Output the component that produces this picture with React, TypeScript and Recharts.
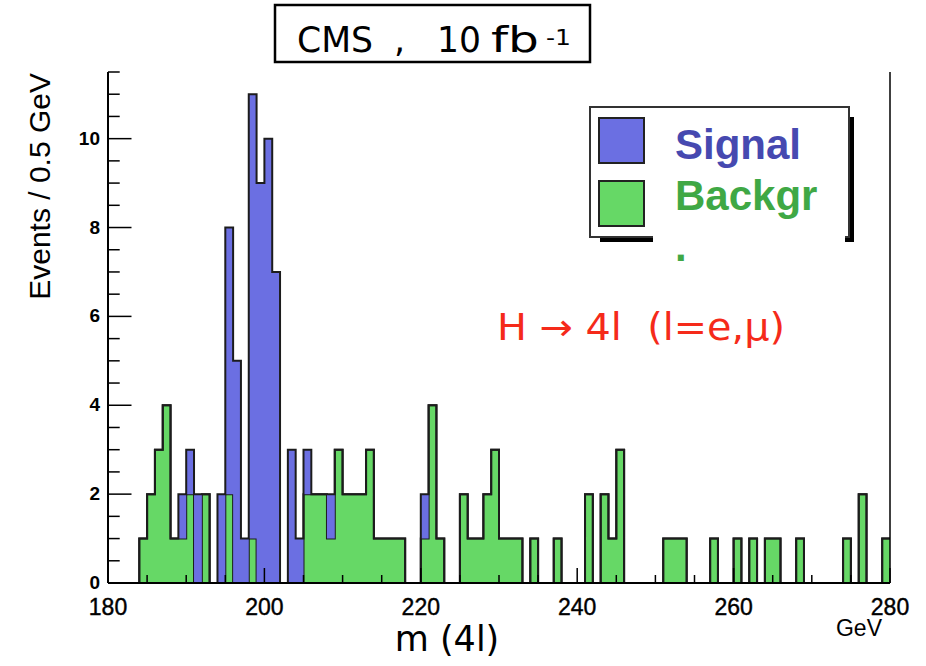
import React from "react";
import {
  ComposedChart,
  Area,
  XAxis,
  YAxis,
  ReferenceLine,
  Legend,
} from "recharts";

// 1 GeV bins from 180 to 280 GeV
const binStart = 180;
const binWidth = 1;

const background = [
  0, 0, 0, 0, 1, 2, 3, 4, 1, 1, // 180-189
  2, 0, 2, 0, 0, 2, 0, 0, 1, 0, // 190-199
  0, 0, 0, 0, 0, 2, 2, 2, 1, 3, // 200-209
  2, 2, 2, 3, 1, 1, 1, 1, 0, 0, // 210-219
  1, 4, 1, 0, 0, 2, 1, 1, 2, 3, // 220-229
  1, 1, 1, 0, 1, 0, 0, 1, 0, 0, // 230-239
  0, 2, 0, 2, 1, 3, 0, 0, 0, 0, // 240-249
  0, 1, 1, 1, 0, 0, 0, 1, 0, 0, // 250-259
  1, 0, 1, 0, 1, 1, 0, 0, 1, 0, // 260-269
  0, 0, 0, 0, 1, 0, 2, 0, 0, 1, // 270-279
];

const signal = [
  0, 0, 0, 0, 0, 0, 0, 0, 0, 1, // 180-189
  1, 2, 0, 0, 2, 6, 5, 1, 10, 9, // 190-199
  10, 7, 0, 3, 1, 1, 0, 0, 1, 0, // 200-209
  0, 0, 0, 0, 0, 0, 0, 0, 0, 0, // 210-219
  1, 0, 0, 0, 0, 0, 0, 0, 0, 0, // 220-229
  0, 0, 0, 0, 0, 0, 0, 0, 0, 0, // 230-239
  0, 0, 0, 0, 0, 0, 0, 0, 0, 0, // 240-249
  0, 0, 0, 0, 0, 0, 0, 0, 0, 0, // 250-259
  0, 0, 0, 0, 0, 0, 0, 0, 0, 0, // 260-269
  0, 0, 0, 0, 0, 0, 0, 0, 0, 0, // 270-279
];

const xMajorTicks = [180, 200, 220, 240, 260, 280];
const xMinorTicks = [
  185, 190, 195, 205, 210, 215, 225, 230, 235, 245, 250, 255, 265, 270, 275,
];
const yMajorTicks = [0, 2, 4, 6, 8, 10];
const yMinorTicks = [
  0.5, 1, 1.5, 2.5, 3, 3.5, 4.5, 5, 5.5, 6.5, 7, 7.5, 8.5, 9, 9.5, 10.5, 11,
  11.5,
];

const BLUE = "#6b6fe2";
const GREEN = "#66d866";
const OUTLINE = "#1c1c1c";
const fillFor: Record<string, string> = { sig: BLUE, bg: GREEN };
const textFor: Record<string, string> = { sig: "#4649b0", bg: "#3fa845" };

const data = background.map((bg, i) => ({
  mass: binStart + i * binWidth,
  bg,
  sig: signal[i],
}));
// closing edge so the last bin keeps its width with stepAfter
data.push({
  mass: binStart + background.length * binWidth,
  bg: background[background.length - 1],
  sig: signal[signal.length - 1],
});

function XTick({ x, y, payload }: any) {
  const major = xMajorTicks.includes(payload.value);
  return (
    <g>
      <line
        x1={x}
        x2={x}
        y1={y}
        y2={y - (major ? 15 : 8)}
        stroke="#000"
        strokeWidth={1.5}
      />
      {major && (
        <text
          x={x}
          y={y + 32}
          textAnchor="middle"
          fontSize={23}
          fontFamily="'Liberation Sans', Arial, sans-serif"
          fill="#000"
          stroke="#000"
          strokeWidth={0.4}
        >
          {payload.value}
        </text>
      )}
    </g>
  );
}

function YTick({ x, y, payload }: any) {
  const major = yMajorTicks.includes(payload.value);
  return (
    <g>
      <line
        x1={x}
        x2={x + (major ? 23.5 : 11.7)}
        y1={y}
        y2={y}
        stroke="#000"
        strokeWidth={1.5}
      />
      {major && (
        <text
          x={x - 8}
          y={y + 6}
          textAnchor="end"
          fontSize={19}
          fontWeight="bold"
          fontFamily="'Liberation Sans', Arial, sans-serif"
          fill="#000"
        >
          {payload.value}
        </text>
      )}
    </g>
  );
}

function LegendBox({ payload }: any) {
  const items = [...(payload || [])].reverse();
  return (
    <div style={{ position: "relative", width: 270, height: 170 }}>
      <div
        style={{
          position: "absolute",
          left: 11,
          top: 11,
          width: 254,
          height: 125,
          background: "#000",
        }}
      />
      <div
        style={{
          position: "absolute",
          left: 0,
          top: 0,
          width: 257,
          height: 128,
          border: "2px solid #333",
          background: "#fff",
        }}
      />
      {items.map((item: any, i: number) => (
        <div
          key={item.dataKey}
          style={{
            position: "absolute",
            left: 9,
            top: 11 + i * 63,
            width: 43,
            height: 43,
            border: "2px solid #222",
            background: fillFor[item.dataKey],
          }}
        />
      ))}
      <div
        style={{
          position: "absolute",
          left: 64,
          top: 13,
          width: 192,
          height: 155,
          background: "#fff",
        }}
      >
        {items.map((item: any) => (
          <div
            key={item.dataKey}
            style={{
              marginLeft: 22,
              width: 150,
              overflowWrap: "anywhere",
              fontFamily: "'Liberation Sans', Arial, sans-serif",
              fontWeight: "bold",
              fontSize: 42,
              lineHeight: "51px",
              color: textFor[item.dataKey],
            }}
          >
            {item.value}
          </div>
        ))}
      </div>
    </div>
  );
}

export default function App() {
  return (
    <div
      style={{
        position: "absolute",
        left: 0,
        top: 0,
        width: 926,
        height: 666,
        background: "#fff",
      }}
    >
      <ComposedChart
        width={926}
        height={666}
        data={data}
        margin={{ top: 72, right: 36, bottom: 0, left: 0 }}
      >
        <Area
          type="stepAfter"
          dataKey="bg"
          name="Backgr."
          stackId="h"
          stroke={OUTLINE}
          strokeWidth={2}
          fill={GREEN}
          fillOpacity={1}
          dot={false}
          activeDot={false}
          isAnimationActive={false}
        />
        <Area
          type="stepAfter"
          dataKey="sig"
          name="Signal"
          stackId="h"
          stroke={OUTLINE}
          strokeWidth={2}
          fill={BLUE}
          fillOpacity={1}
          dot={false}
          activeDot={false}
          isAnimationActive={false}
        />
        <XAxis
          dataKey="mass"
          type="number"
          domain={[180, 280]}
          ticks={[...xMajorTicks, ...xMinorTicks]}
          interval={0}
          height={83}
          tickSize={0}
          tickMargin={0}
          tickLine={false}
          tick={<XTick />}
          axisLine={{ stroke: "#000", strokeWidth: 2 }}
          label={({ viewBox }: any) => (
            <g>
              <text
                x={viewBox.x + viewBox.width / 2 - 52}
                y={viewBox.y + 68}
                textAnchor="middle"
                fontSize={35}
                fontFamily="'DejaVu Sans', sans-serif"
                fill="#000"
              >
                m (4l)
              </text>
              <text
                x={viewBox.x + viewBox.width - 8}
                y={viewBox.y + 53}
                textAnchor="end"
                fontSize={23}
                fontFamily="'Liberation Sans', Arial, sans-serif"
                fill="#000"
              >
                GeV
              </text>
            </g>
          )}
        />
        <YAxis
          type="number"
          domain={[0, 11.5]}
          ticks={[...yMajorTicks, ...yMinorTicks]}
          interval={0}
          width={108}
          tickSize={0}
          tickMargin={0}
          tickLine={false}
          tick={<YTick />}
          axisLine={{ stroke: "#000", strokeWidth: 2 }}
          label={({ viewBox }: any) => (
            <text
              x={50}
              y={viewBox.y + 1}
              transform={`rotate(-90, 50, ${viewBox.y + 1})`}
              textAnchor="end"
              fontSize={30}
              fontFamily="'Liberation Sans', Arial, sans-serif"
              fill="#000"
            >
              Events / 0.5 GeV
            </text>
          )}
        />
        <ReferenceLine x={280} stroke="#000" strokeWidth={1.5} />
        <Legend
          layout="horizontal"
          verticalAlign="middle"
          align="center"
          content={<LegendBox />}
          wrapperStyle={{ left: 589, top: 106, width: 270, height: 170 }}
        />
      </ComposedChart>

      <svg
        width={926}
        height={666}
        style={{ position: "absolute", left: 0, top: 0, pointerEvents: "none" }}
      >
        <rect
          x={275}
          y={5}
          width={315}
          height={57}
          fill="#fff"
          stroke="#000"
          strokeWidth={2.5}
        />
        <g fontFamily="'DejaVu Sans', sans-serif" fontSize={35} fill="#000">
          <text x={297} y={52} textLength={76} lengthAdjust="spacingAndGlyphs">
            CMS
          </text>
          <text x={394} y={52}>,</text>
          <text x={437} y={52} textLength={44} lengthAdjust="spacingAndGlyphs">
            10
          </text>
          <text x={491} y={52} textLength={48} lengthAdjust="spacingAndGlyphs">
            fb
          </text>
          <text
            x={546}
            y={45}
            fontSize={22}
            textLength={25}
            lengthAdjust="spacingAndGlyphs"
          >
            -1
          </text>
        </g>
        <text
          x={497}
          y={340}
          fontSize={37}
          fontFamily="'DejaVu Sans', sans-serif"
          fill="#f52a1a"
          textLength={288}
          lengthAdjust="spacingAndGlyphs"
          style={{ whiteSpace: "pre" }}
        >
          {"H \u2192 4l  (l=e,\u03bc)"}
        </text>
      </svg>
    </div>
  );
}
